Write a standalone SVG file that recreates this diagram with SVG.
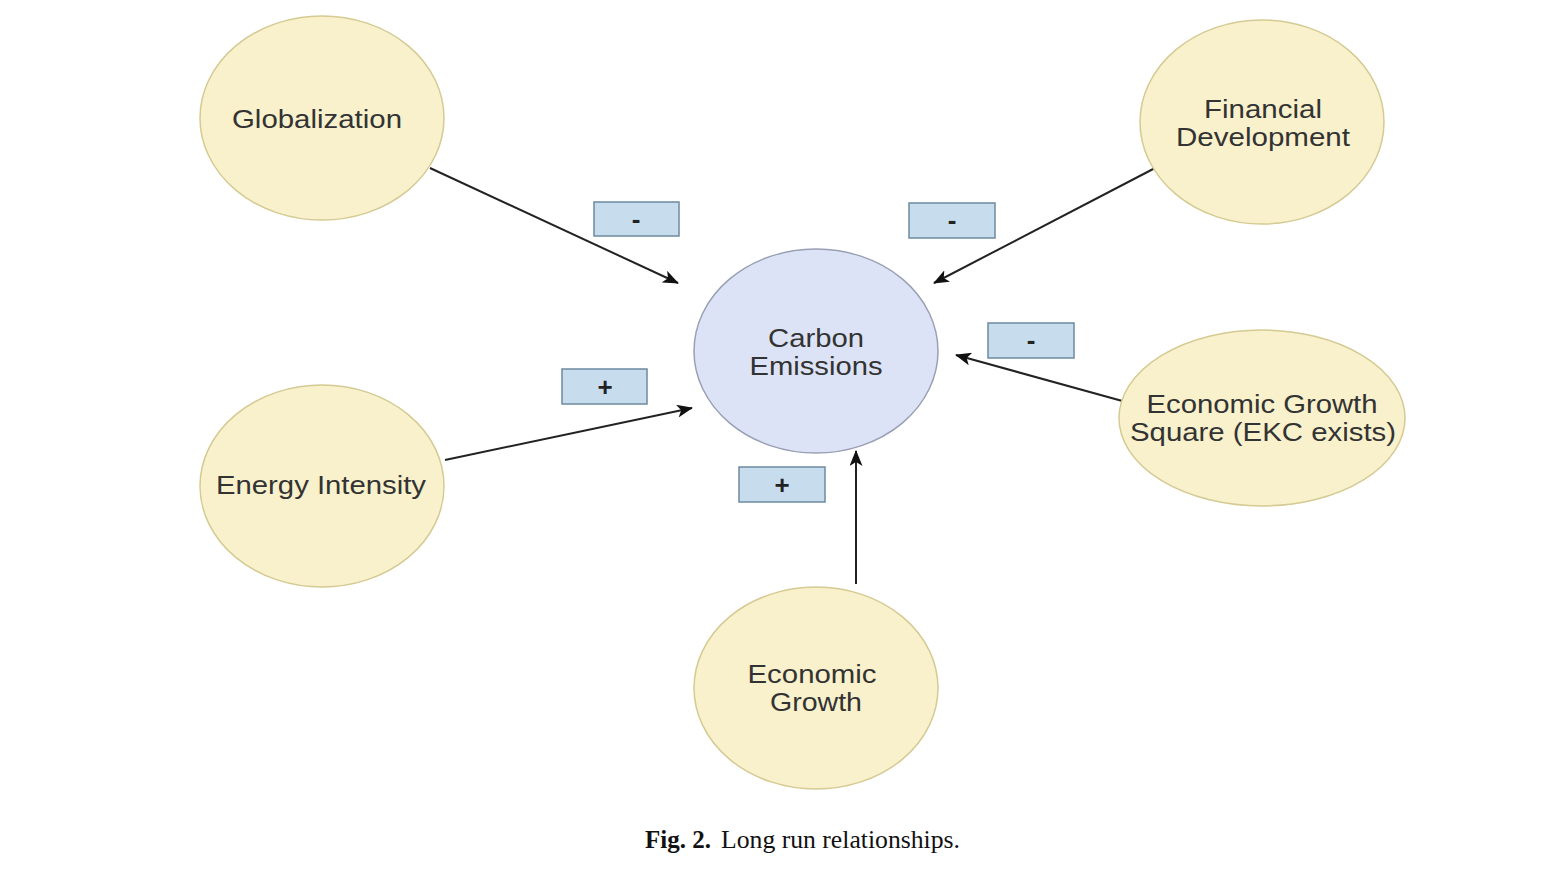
<svg xmlns="http://www.w3.org/2000/svg" width="1568" height="880" viewBox="0 0 1568 880">
<style>
.y{fill:#f8f1cc;stroke:#d4ca92;stroke-width:1.5}
.c{fill:#dde3f6;stroke:#9aa0b4;stroke-width:1.5}
.t{font-family:"Liberation Sans",Arial,sans-serif;font-size:25px;fill:#333;text-anchor:middle}
.b{fill:#c7ddee;stroke:#6e899e;stroke-width:1.5}
.s{font-family:"Liberation Sans",Arial,sans-serif;font-size:26px;font-weight:bold;fill:#222;text-anchor:middle}
.e{stroke:#222;stroke-width:2;fill:none;marker-end:url(#a)}
.cap{font-family:"Liberation Serif","Times New Roman",serif;font-size:25px;fill:#111}
</style>
<defs>
<marker id="a" viewBox="0 0 16 13" refX="15" refY="6.5" markerWidth="16" markerHeight="13" markerUnits="userSpaceOnUse" orient="auto">
<path d="M0,0 L16,6.5 L0,13 L4,6.5 Z" fill="#111"/>
</marker>
</defs>
<rect width="1568" height="880" fill="#fff"/>
<g id="connectors">
<line class="e" x1="430" y1="168" x2="678" y2="283"/>
<line class="e" x1="1157" y1="167" x2="934" y2="283"/>
<line class="e" x1="1126" y1="402" x2="956" y2="355"/>
<line class="e" x1="445" y1="460" x2="692" y2="408"/>
<line class="e" x1="856" y1="584" x2="856" y2="451"/>
</g>
<g id="globalization">
<ellipse class="y" cx="322" cy="118" rx="122" ry="102"/>
<text class="t" x="317" y="128" textLength="170" lengthAdjust="spacingAndGlyphs">Globalization</text>
</g>
<g id="financial-development">
<ellipse class="y" cx="1262" cy="122" rx="122" ry="102"/>
<text class="t" x="1263" y="118" textLength="118" lengthAdjust="spacingAndGlyphs">Financial</text>
<text class="t" x="1263" y="146" textLength="174" lengthAdjust="spacingAndGlyphs">Development</text>
</g>
<g id="carbon-emissions">
<ellipse class="c" cx="816" cy="351" rx="122" ry="102"/>
<text class="t" x="816" y="347" textLength="96" lengthAdjust="spacingAndGlyphs">Carbon</text>
<text class="t" x="816" y="375" textLength="133" lengthAdjust="spacingAndGlyphs">Emissions</text>
</g>
<g id="energy-intensity">
<ellipse class="y" cx="322" cy="486" rx="122" ry="101"/>
<text class="t" x="321" y="494" textLength="210" lengthAdjust="spacingAndGlyphs">Energy Intensity</text>
</g>
<g id="economic-growth-square">
<ellipse class="y" cx="1262" cy="418" rx="143" ry="88"/>
<text class="t" x="1262" y="413" textLength="231" lengthAdjust="spacingAndGlyphs">Economic Growth</text>
<text class="t" x="1263" y="441" textLength="266" lengthAdjust="spacingAndGlyphs">Square (EKC exists)</text>
</g>
<g id="economic-growth">
<ellipse class="y" cx="816" cy="688" rx="122" ry="101"/>
<text class="t" x="812" y="683" textLength="129" lengthAdjust="spacingAndGlyphs">Economic</text>
<text class="t" x="816" y="711" textLength="92" lengthAdjust="spacingAndGlyphs">Growth</text>
</g>
<g id="sign-globalization">
<rect class="b" x="594" y="202" width="85" height="34"/>
<text class="s" x="636" y="228">-</text>
</g>
<g id="sign-financial">
<rect class="b" x="909" y="203" width="86" height="35"/>
<text class="s" x="952" y="229">-</text>
</g>
<g id="sign-ekc">
<rect class="b" x="988" y="323" width="86" height="35"/>
<text class="s" x="1031" y="349">-</text>
</g>
<g id="sign-energy">
<rect class="b" x="562" y="369" width="85" height="35"/>
<text class="s" x="605" y="396">+</text>
</g>
<g id="sign-growth">
<rect class="b" x="739" y="467" width="86" height="35"/>
<text class="s" x="782" y="494">+</text>
</g>
<text class="cap" x="645" y="848"><tspan font-weight="bold">Fig. 2.</tspan><tspan x="721" textLength="239" lengthAdjust="spacingAndGlyphs">Long run relationships.</tspan></text>
</svg>
